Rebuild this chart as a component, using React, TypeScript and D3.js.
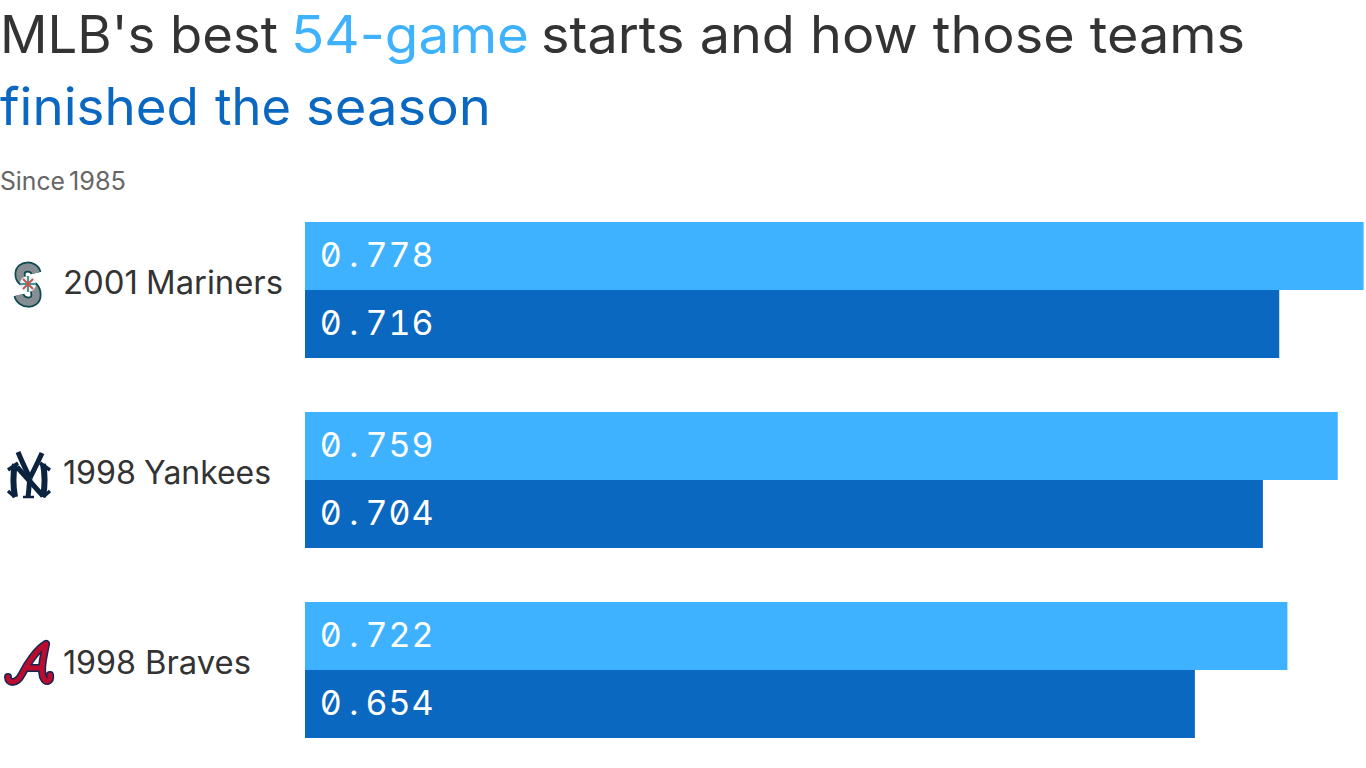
import React from "react";
import * as d3 from "d3";

const years = ["2001", "1998", "1998"];
const names = ["Mariners", "Yankees", "Braves"];
const first54 = [0.778, 0.759, 0.722];
const finalPct = [0.716, 0.704, 0.654];
const LIGHT = "#3eb2ff";
const DARK = "#0b68c1";
const TEXT = "#333333";
const SANS = "Inter, 'Noto Sans', sans-serif";

const x = d3.scaleLinear().domain([0, 0.778]).range([305, 1363.6]);
const rowY = d3.scalePoint<string>().domain(names).range([222, 602]);
const BAR_H = 68;
const fmt = d3.format(".3f");

function Seg({ t, a, b, y, size, fill }: { t: string; a: number; b: number; y: number; size: number; fill: string }) {
  return (
    <text x={a} y={y} fontFamily={SANS} fontSize={size} fill={fill} textLength={b - a} lengthAdjust="spacingAndGlyphs">{t}</text>
  );
}

function Value({ v, y }: { v: number; y: number }) {
  const s = fmt(v);
  const xs = Array.from(s, (_, i) => 330.8 + i * 22.9).join(" ");
  return (
    <text x={xs} y={y} fontFamily="Inter, sans-serif" fontSize={34} fill="#fff" textAnchor="middle"
      style={{ fontFeatureSettings: '"zero" 1, "tnum" 1' }}>{s}</text>
  );
}

function Mariners() {
  const d = "M36 273C34 265 20 265 20 274C20 286 36 281 36 295C36 305 21 304 19 295";
  return (
    <g fill="none" strokeLinecap="butt">
      <path d={d} stroke="#0c4a4f" strokeWidth={11} />
      <path d={d} stroke="#868d93" strokeWidth={7.5} />
      <circle cx={28} cy={284} r={8} fill="#eef1f0" />
      <path d="M20 284L36 284M28 276L28 292" stroke="#0e7c76" strokeWidth={1.5} />
      <path d="M23 279L33 289M33 279L23 289" stroke="#c9504f" strokeWidth={1.8} />
    </g>
  );
}
function Yankees() {
  return (
    <g fill="none" stroke="#0c2340">
      <path d="M15 464C13 474 13 486 15 497" strokeWidth={6} />
      <path d="M8 470L18 463" strokeWidth={3.5} />
      <path d="M8 491L15 497" strokeWidth={3.5} />
      <path d="M43 464C45 474 45 486 43 497" strokeWidth={6} />
      <path d="M40 463L50 470" strokeWidth={3.5} />
      <path d="M43 497L50 491" strokeWidth={3.5} />
      <path d="M17 467L43 496" strokeWidth={5} />
      <path d="M18 452C22 462 26 470 30 478" strokeWidth={5} />
      <path d="M42 453C38 462 34 470 30 478" strokeWidth={5} />
      <path d="M30 478C29 484 29 490 28 497" strokeWidth={5} />
      <path d="M23 497L34 497" strokeWidth={2.5} />
    </g>
  );
}
function Braves() {
  const d = "M46 644C37 649 27 664 22 674C17 684 8 684 8 677M46 644C44 656 40 668 43 677C46 684 51 681 50 675M27 668L41 668";
  return (
    <g fill="none">
      <path d={d} stroke="#13274f" strokeWidth={8} strokeLinejoin="round" strokeLinecap="round" />
      <path d={d} stroke="#ba0c2f" strokeWidth={5} strokeLinejoin="round" strokeLinecap="round" />
    </g>
  );
}
const logos = [<Mariners key="m" />, <Yankees key="y" />, <Braves key="b" />];
const yearEnds = [138, 136, 136];
const nameStarts = [146, 144, 145];
const nameEnds = [283, 271, 251];

export default function App() {
  return (
    <svg width={1366} height={768} style={{ position: "absolute", left: 0, top: 0, background: "#fff" }}>
      <Seg t="MLB's best" a={0} b={278} y={53} size={52} fill={TEXT} />
      <Seg t="54-game" a={291} b={529} y={53} size={52} fill={LIGHT} />
      <Seg t="starts and how those teams" a={541} b={1245} y={53} size={52} fill={TEXT} />
      <Seg t="finished" a={0} b={199} y={125} size={52} fill={DARK} />
      <Seg t="the" a={215} b={291} y={125} size={52} fill={DARK} />
      <Seg t="season" a={306} b={491} y={125} size={52} fill={DARK} />
      <Seg t="Since" a={0} b={65} y={190} size={25} fill="#666666" />
      <Seg t="1985" a={69} b={126} y={190} size={25} fill="#666666" />
      {names.map((t, i) => {
        const y0 = rowY(t)!;
        return (
          <g key={t}>
            {logos[i]}
            <Seg t={years[i]} a={63} b={yearEnds[i]} y={y0 + 72} size={32} fill={TEXT} />
            <Seg t={t} a={nameStarts[i]} b={nameEnds[i]} y={y0 + 72} size={32} fill={TEXT} />
            <rect x={x(0)} y={y0} width={x(first54[i]) - x(0)} height={BAR_H} fill={LIGHT} />
            <rect x={x(0)} y={y0 + BAR_H} width={x(finalPct[i]) - x(0)} height={BAR_H} fill={DARK} />
            <Value v={first54[i]} y={y0 + 45} />
            <Value v={finalPct[i]} y={y0 + BAR_H + 45} />
          </g>
        );
      })}
    </svg>
  );
}
